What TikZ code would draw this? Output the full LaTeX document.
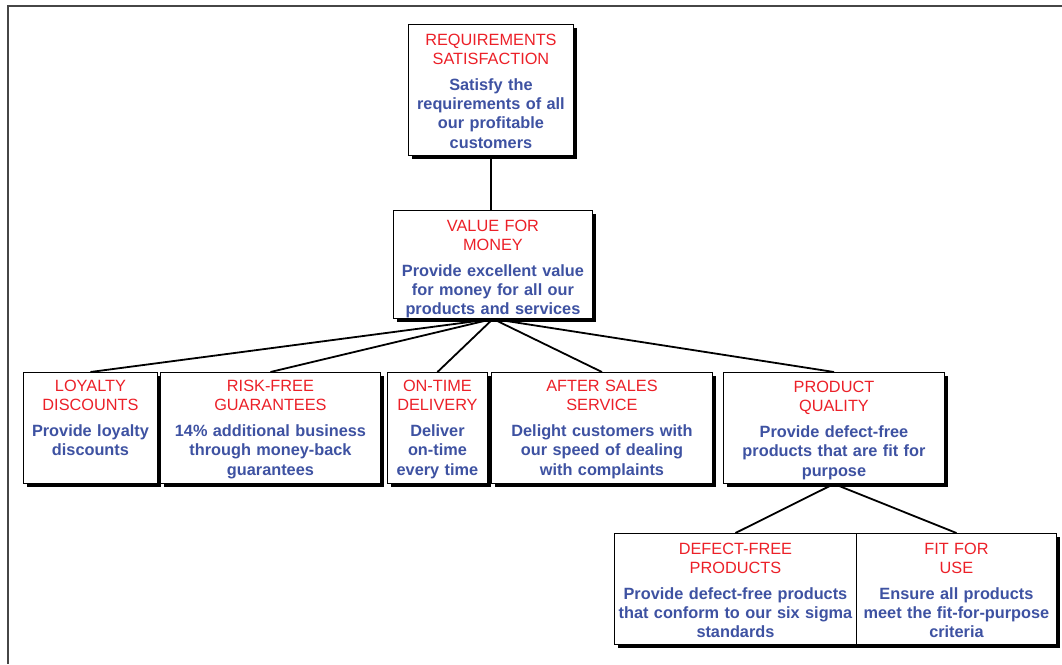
\documentclass[tikz,border=0pt]{standalone}
\usepackage{fontspec}
\setmainfont{Liberation Sans}
\usetikzlibrary{shadows}
\definecolor{headred}{RGB}{236,32,40}
\definecolor{descblue}{RGB}{62,82,162}
\definecolor{framegray}{RGB}{70,70,70}
% heading in red, then the description in bold blue
\newcommand{\boxtext}[2]{{\color{headred}#1\par}\vspace{6.4pt}{\color{descblue}\bfseries #2\par}}

\begin{document}
\begin{tikzpicture}[x=1pt,y=-1pt,
  box/.style={draw, line width=0.9pt, fill=white, inner sep=0pt, anchor=north west,
    drop shadow={shadow xshift=3.2pt, shadow yshift=-3.2pt, opacity=1, fill=black}},
  txt/.style={anchor=north, inner sep=0pt, text width=250pt, align=center,
    font=\fontsize{16.3}{19.3}\selectfont},
  link/.style={line width=1.8pt, black}]

\path[use as bounding box] (0,0) rectangle (1062,664);

% outer frame (top and left edges)
\draw[framegray, line width=1.8pt, line join=miter] (1062,6) -- (8,6) -- (8,664);

% boxes
\node[box, minimum width=165pt, minimum height=131pt] (req)  at (408,24)  {};
\node[box, minimum width=199pt, minimum height=108pt] (val)  at (393,210) {};
\node[box, minimum width=134pt, minimum height=111pt] (loy)  at (23,372)  {};
\node[box, minimum width=220pt, minimum height=111pt] (risk) at (160,372) {};
\node[box, minimum width=100pt, minimum height=111pt] (ont)  at (387,372) {};
\node[box, minimum width=221pt, minimum height=111pt] (aft)  at (491,372) {};
\node[box, minimum width=221pt, minimum height=111pt] (prod) at (723,372) {};
\node[box, minimum width=242pt, minimum height=111pt] (def)  at (614,533) {};
\node[box, minimum width=200pt, minimum height=111pt] (fit)  at (856,533) {};

% connectors
\draw[link] (req.south) -- (req.south |- val.north);
\foreach \k in {loy,risk,ont,aft,prod} \draw[link] (val.south) -- (\k.north);
\draw[link] (prod.south) -- (def.north);
\draw[link] (prod.south) -- (fit.north);

% texts
\node[txt] (reqT) at ([yshift=-9.6pt]req.north)
  {\boxtext{REQUIREMENTS\\SATISFACTION}{Satisfy the\\requirements of all\\our profitable\\customers}};
\node[txt] (valT) at ([yshift=-9.6pt]val.north)
  {\boxtext{VALUE FOR\\MONEY}{Provide excellent value\\for money for all our\\products and services}};
\node[txt] (loyT) at ([yshift=-8pt]loy.north)
  {\boxtext{LOYALTY\\DISCOUNTS}{Provide loyalty\\discounts}};
\node[txt] (riskT) at ([yshift=-8pt]risk.north)
  {\boxtext{RISK-FREE\\GUARANTEES}{14\% additional business\\through money-back\\guarantees}};
\node[txt] (ontT) at ([yshift=-8pt]ont.north)
  {\boxtext{ON-TIME\\DELIVERY}{Deliver\\on-time\\every time}};
\node[txt] (aftT) at ([yshift=-8pt]aft.north)
  {\boxtext{AFTER SALES\\SERVICE}{Delight customers with\\our speed of dealing\\with complaints}};
\node[txt] (prodT) at ([yshift=-9pt]prod.north)
  {\boxtext{PRODUCT\\QUALITY}{Provide defect-free\\products that are fit for\\purpose}};
\node[txt] (defT) at ([yshift=-9.6pt]def.north)
  {\boxtext{DEFECT-FREE\\PRODUCTS}{Provide defect-free products\\that conform to our six sigma\\standards}};
\node[txt] (fitT) at ([yshift=-9.6pt]fit.north)
  {\boxtext{FIT FOR\\USE}{Ensure all products\\meet the fit-for-purpose\\criteria}};
\end{tikzpicture}
\end{document}
